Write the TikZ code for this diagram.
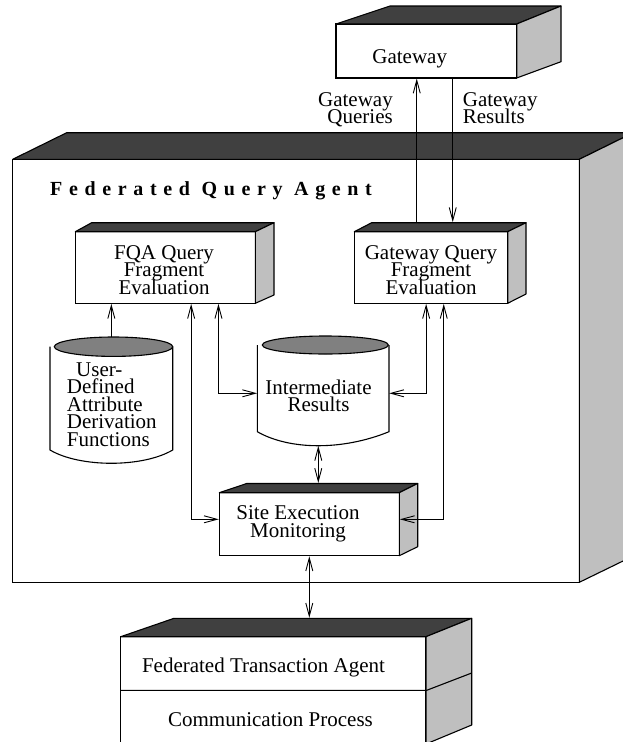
\documentclass[tikz,border=0pt]{standalone}
\usepackage{fontspec}
\setmainfont{Liberation Serif}
\newfontfamily\fqafont[LetterSpace=33.2]{Liberation Serif}
\usetikzlibrary{arrows.meta,calc}
\definecolor{topdark}{HTML}{404040}
\definecolor{sidegray}{HTML}{BFBFBF}
\definecolor{capgray}{HTML}{808080}
\newcommand\mlc[2]{\vtop{\baselineskip=#1\lineskiplimit=-100pt\lineskip=0pt\halign{\hfil##\hfil\cr#2\crcr}}}
\newcommand\mll[2]{\vtop{\baselineskip=#1\lineskiplimit=-100pt\lineskip=0pt\halign{##\hfil\cr#2\crcr}}}
\newcommand\mlr[2]{\vtop{\baselineskip=#1\lineskiplimit=-100pt\lineskip=0pt\halign{\hfil##\cr#2\crcr}}}
\begin{document}
\begin{tikzpicture}[x=1pt,y=-1pt,
  face/.style={draw=black,line width=1.1pt,fill=white,rectangle,inner sep=0pt},
  topface/.style={draw=black,line width=1.1pt,fill=topdark,line join=round},
  sideface/.style={draw=black,line width=1.1pt,fill=sidegray,line join=round},
  outline/.style={draw=black,line width=1.1pt},
  conn/.style={draw=black,line width=0.9pt},
  >={Straight Barb[length=13pt,width=7pt]},
  txt/.style={inner sep=0pt,font=\fontsize{21}{17.5}\selectfont},
  hold/.style={inner sep=0pt,draw=none}
]
\clip (0,0) rectangle (623,742);
\fill[white] (0,0) rectangle (623,742);

% main Federated Query Agent box
\node[face,minimum width=566.6pt,minimum height=423pt] (main) at (296,370.8) {};
\draw[topface] (12.7,159.3) -- (66.7,132.7) -- (633.3,132.7) -- (579.3,159.3) -- cycle;
\draw[sideface] (579.3,159.3) -- (633.3,132.7) -- (633.3,556) -- (579.3,582.3) -- cycle;
\node[inner sep=0pt,anchor=base west,font=\fqafont\bfseries\fontsize{20}{24}\selectfont] (fqatitle) at (50,195.5) {Federated Query Agent};

% Gateway
\node[face,minimum width=180.7pt,minimum height=54pt] (gw) at (426.35,51) {};
\draw[topface] (336,24) -- (390,6) -- (561,6) -- (516.7,24) -- cycle;
\draw[sideface] (516.7,24) -- (561,6) -- (561,61.7) -- (516.7,78) -- cycle;
\node[txt,anchor=base] (gwtext) at (409.7,63) {Gateway};
\node[txt,anchor=base east] (gqlabel) at (393,106) {\mlr{17.3pt}{Gateway\cr Queries}};
\node[txt,anchor=base west] (grlabel) at (462.7,106) {\mll{17.3pt}{Gateway\cr Results}};

% FQA Query Fragment Evaluation
\node[face,minimum width=180pt,minimum height=71.6pt] (fqa) at (165.3,267.5) {};
\draw[topface] (75.3,231.7) -- (91.7,222.7) -- (274,222.7) -- (255.3,231.7) -- cycle;
\draw[sideface] (255.3,231.7) -- (274,222.7) -- (274,295) -- (255.3,303.3) -- cycle;
\node[txt,anchor=base] (fqatext) at (164,259.3) {\mlc{17.4pt}{FQA Query\cr Fragment\cr Evaluation}};

% Gateway Query Fragment Evaluation
\node[face,minimum width=153.4pt,minimum height=71.6pt] (gqfe) at (431,267.5) {};
\draw[topface] (354.3,231.7) -- (371.7,222.7) -- (526,222.7) -- (507.7,231.7) -- cycle;
\draw[sideface] (507.7,231.7) -- (526,222.7) -- (526,294) -- (507.7,303.3) -- cycle;
\node[txt,anchor=base] (gqfetext) at (431,259.3) {\mlc{17.4pt}{Gateway Query\cr Fragment\cr Evaluation}};

% Site Execution Monitoring
\node[face,minimum width=180pt,minimum height=63pt] (sem) at (309.3,524.2) {};
\draw[topface] (219.3,492.7) -- (246.7,483.5) -- (417.7,483.5) -- (399.3,492.7) -- cycle;
\draw[sideface] (399.3,492.7) -- (417.7,483.5) -- (417.7,546.7) -- (399.3,555.7) -- cycle;
\node[txt,anchor=base] (semtext) at (298,519.3) {\mlc{18pt}{Site Execution\cr Monitoring}};

% Federated Transaction Agent / Communication Process
\node[face,minimum width=305.3pt,minimum height=107.3pt] (fta) at (273.35,690.35) {};
\draw[topface] (120.7,636.7) -- (174,618.3) -- (471.7,618.3) -- (426,636.7) -- cycle;
\draw[sideface] (426,636.7) -- (471.7,618.3) -- (471.7,725) -- (426,744) -- cycle;
\draw[outline] (fta.west) -- (fta.east) -- (471.7,673);
\node[txt,anchor=base] (ftatext) at (263.5,672.7) {Federated Transaction Agent};
\node[txt,anchor=base] (cptext) at (270.5,726.7) {Communication Process};

% User-Defined Attribute Derivation Functions cylinder
\node[hold,minimum width=122.7pt,minimum height=126pt] (udf) at (111.35,400.3) {};
\fill[white] (50,346.7) -- (50,450) .. controls (80,467.7) and (142.7,467.7) .. (172.7,450) -- (172.7,346.7) -- cycle;
\draw[outline] (50,346.7) -- (50,450) .. controls (80,467.7) and (142.7,467.7) .. (172.7,450) -- (172.7,346.7);
\draw[outline,fill=capgray] (113.5,346.7) ellipse [x radius=59.2pt,y radius=9.7pt];
\node[txt,anchor=base west] (udftext) at (66.7,376) {\mll{17.6pt}{\kern9.3pt User-\cr Defined\cr Attribute\cr Derivation\cr Functions}};

% Intermediate Results cylinder
\node[hold,minimum width=131.7pt,minimum height=109.7pt] (ir) at (323.15,390.85) {};
\fill[white] (257.3,345) -- (257.3,431.7) .. controls (290,450.4) and (343.2,450.4) .. (389,431.7) -- (389,345) -- cycle;
\draw[outline] (257.3,345) -- (257.3,431.7) .. controls (290,450.4) and (343.2,450.4) .. (389,431.7) -- (389,345);
\draw[outline,fill=capgray] (325.3,345) ellipse [x radius=63pt,y radius=9pt];
\node[txt,anchor=base] (irtext) at (318.5,394) {\mlc{17pt}{Intermediate\cr Results}};

% helper coordinates on the top faces
\coordinate (semtop) at ($(sem.north)+(0,-9.2)$);
\coordinate (ftatop) at ($(fta.north)+(0,-18.4)$);

% connectors
\draw[conn,->] ($(gqfe.north west)+(63,-9)$) -- ($(gw.south west)+(81.3,0)$);
\draw[conn,->] ($(gw.south west)+(117.3,0)$) -- ($(gqfe.north west)+(99,-9)$);
\draw[conn,->] (udf.north) -- (udf.north |- fqa.south);
\draw[conn,<->] ($(fqa.south west)+(116.4,0)$) |- ($(sem.west)+(0,-4.9)$);
\draw[conn,<->] ($(fqa.south west)+(143.7,0)$) |- ($(ir.west)+(0,2.45)$);
\draw[conn,<->] ($(gqfe.south west)+(72.4,0)$) |- ($(ir.east)+(0,2.45)$);
\draw[conn,<->] ($(gqfe.south west)+(90,0)$) |- ($(sem.east)+(0,-4.9)$);
\draw[conn,<->] ($(ir.south)+(-4.85,0)$) coordinate (irbottom) -- (irbottom |- semtop);
\draw[conn,<->] (sem.south) -- (sem.south |- ftatop);
\end{tikzpicture}
\end{document}
